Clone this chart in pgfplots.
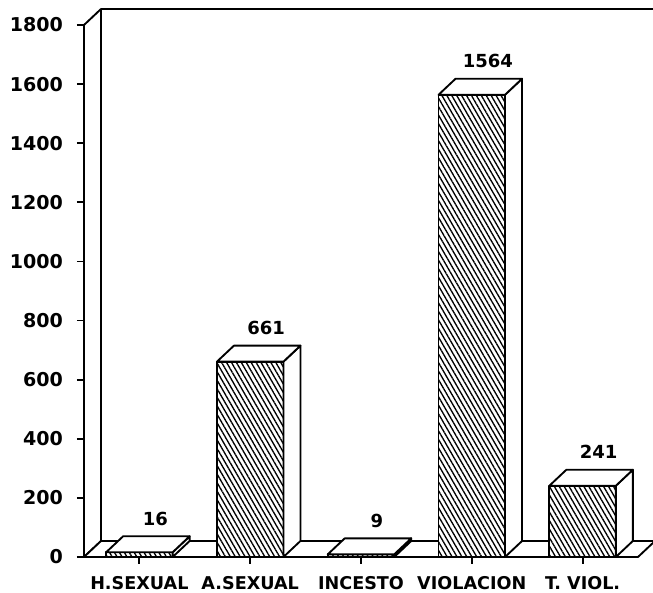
\documentclass[border=0pt]{standalone}
\usepackage{fontspec}
\setmainfont{DejaVu Sans}
\usepackage{pgfplots}
\usepackage{pgfplotstable}
\pgfplotsset{compat=1.18}
\usetikzlibrary{patterns.meta}
\def\dxp{12.75pt}
\def\dyp{12pt}
\def\hw{24.93pt}
\def\lw{1.4pt}
\pgfplotstableread{
x y
0 16
1 661
2 9
3 1564
4 241
}\datatable
\begin{document}
\begin{tikzpicture}
\begin{axis}[
  x=83.1pt, y=0.221667pt,
  xmin=-0.5, xmax=4.5, ymin=0, ymax=1800,
  clip=false,
  axis lines=left,
  axis line style={-, line width=\lw},
  tick style={line width=\lw, black},
  tick align=outside,
  major tick length=5.25pt,
  xtick={0,1,2,3,4},
  xticklabels={H.SEXUAL, A.SEXUAL, INCESTO, VIOLACION, T. VIOL.},
  ytick={0,200,...,1800},
  xticklabel style={font=\fontsize{13.2}{14}\selectfont\bfseries, yshift=-5.5pt},
  yticklabel style={font=\fontsize{14.3}{15}\selectfont\bfseries, xshift=-7pt},
  /pgf/number format/assume math mode=true,
  /pgf/number format/1000 sep={},
]
% left side wall and back wall
\draw[fill=white, line width=\lw, line join=round]
  (axis cs:-0.5,0) -- (axis cs:-0.5,1800) -- ++(\dxp,\dyp)
  -- ([shift={(\dxp,\dyp)}]axis cs:-0.5,0) -- cycle;
\draw[line width=\lw, line join=round]
  ([shift={(\dxp,\dyp)}]axis cs:-0.5,1800) -- ([shift={(\dxp,\dyp)}]axis cs:4.5,1800);
% floor
\draw[fill=white, line width=\lw, line join=round]
  (axis cs:-0.5,0) -- (axis cs:4.5,0) -- ++(\dxp,\dyp)
  -- ([shift={(\dxp,\dyp)}]axis cs:-0.5,0) -- cycle;
% bars
\addplot[ybar, bar width=0.6, fill=white, draw=none] table[x=x, y=y] {\datatable};
\addplot[ybar, bar width=0.6, draw=black, line width=\lw, line join=round,
  pattern={Lines[angle=-60, distance=3.2pt, line width=1pt]},
  nodes near coords,
  every node near coord/.append style={anchor=south, inner sep=0pt,
    xshift=12pt, yshift=19.5pt, text=black,
    font=\fontsize{13.5}{14}\selectfont\bfseries},
  ] table[x=x, y=y] {\datatable};
% 3D side and top faces of each bar, from the same table
\pgfplotsinvokeforeach{0,1,2,3,4}{%
  \pgfplotstablegetelem{#1}{y}\of\datatable
  \edef\temp{\noexpand\draw[fill=white, line width=\lw, line join=round]
    ([xshift=\hw]axis cs:#1,\pgfplotsretval) -- ++(\dxp,\dyp)
    -- ([shift={(\hw+\dxp,\dyp)}]axis cs:#1,0)
    -- ([xshift=\hw]axis cs:#1,0) -- cycle;
    \noexpand\draw[fill=white, line width=\lw, line join=round]
    ([xshift=-\hw]axis cs:#1,\pgfplotsretval) -- ([xshift=\hw]axis cs:#1,\pgfplotsretval)
    -- ++(\dxp,\dyp) -- ([shift={(-\hw+\dxp,\dyp)}]axis cs:#1,\pgfplotsretval) -- cycle;}%
  \temp
}
\coordinate (bbll) at (axis cs:-1.2581,-121.8);
\coordinate (bbur) at (axis cs:4.6354,1884.6);
\end{axis}
\pgfresetboundingbox
\useasboundingbox (bbll) rectangle (bbur);
\end{tikzpicture}
\end{document}
